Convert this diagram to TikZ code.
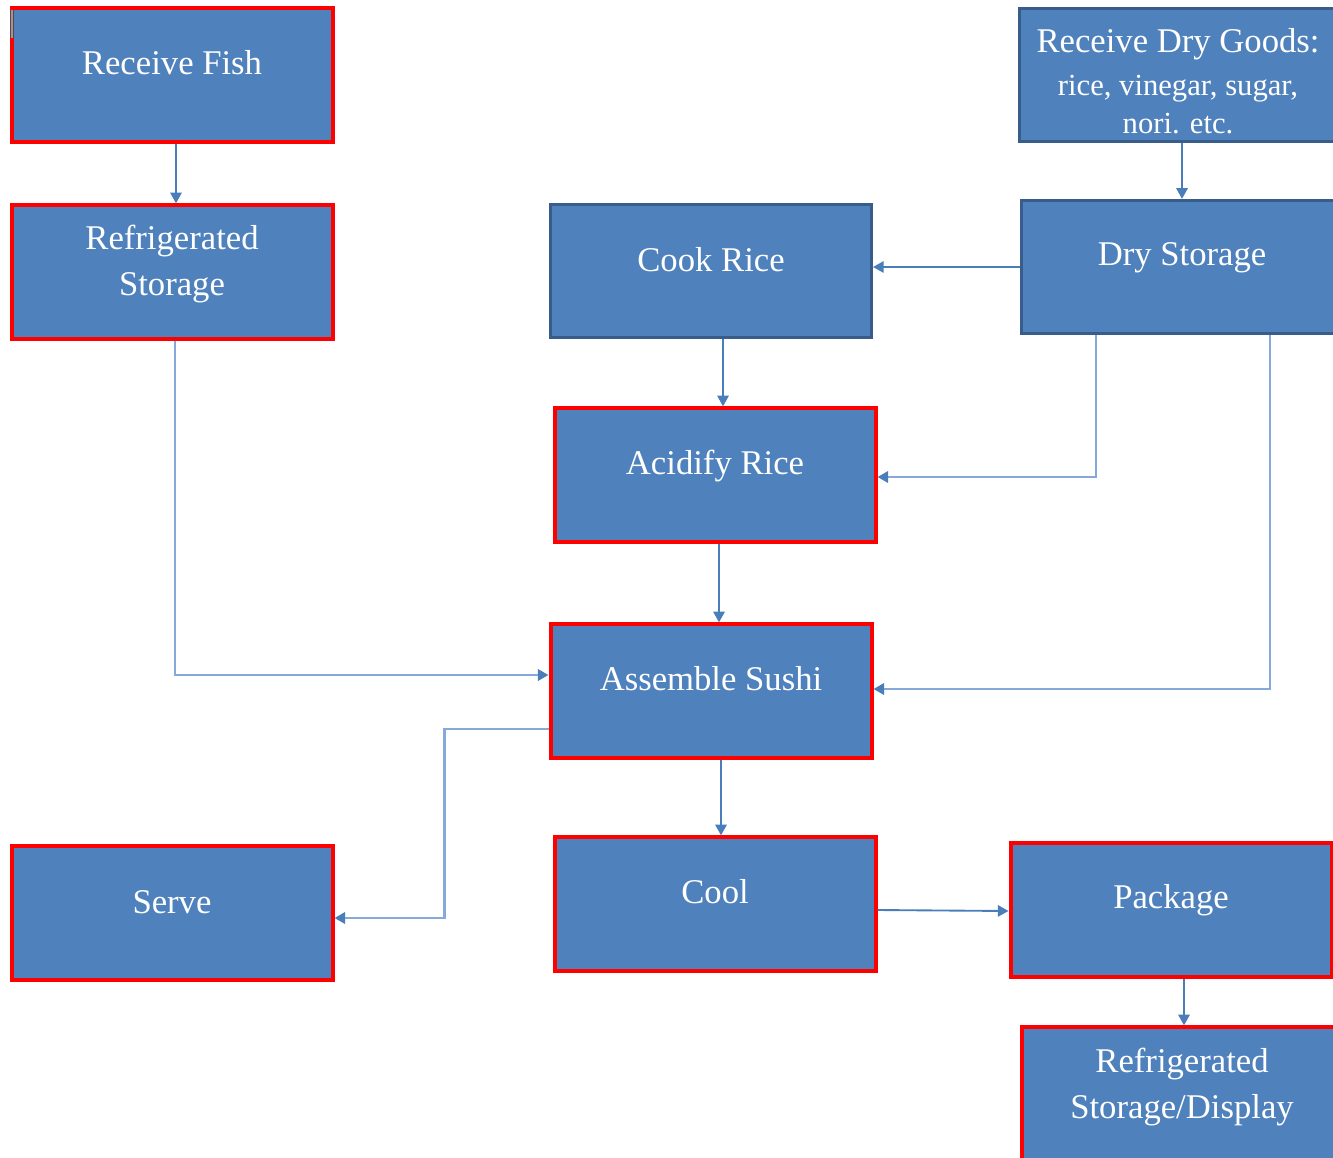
\documentclass[tikz,border=0pt]{standalone}
\usepackage{fontspec}
\setmainfont{Liberation Serif}
\usetikzlibrary{arrows.meta}
\definecolor{boxfill}{HTML}{4F81BD}
\definecolor{boxblue}{HTML}{385D8A}
\definecolor{boxred}{HTML}{FF0000}
\definecolor{conndark}{HTML}{4A7EBB}
\definecolor{connlight}{HTML}{85A9D8}
\definecolor{artcyan}{HTML}{00D8E0}
\tikzset{
  box/.style={rectangle, fill=boxfill, minimum width=240.75pt, minimum height=100pt, inner sep=0pt},
  redbox/.style={box, draw=boxred, line width=3pt},
  bluebox/.style={box, draw=boxblue, line width=2.2pt},
  txt/.style={anchor=base, text=white, inner sep=0pt, font=\fontsize{26}{34.5}\selectfont},
  conn/.style={draw=conndark, line width=1.4pt, -{Triangle[length=8pt,width=8.5pt]}},
  light/.style={draw=connlight, line width=2.2pt, -{Triangle[length=8pt,width=8.5pt,color=conndark]}}
}
\begin{document}
\begin{tikzpicture}[x=0.75pt,y=-0.75pt]
\clip (0,0) rectangle (1333,1157);
\fill[white] (0,0) rectangle (1333,1157);
% boxes
\node[redbox]  (fish)   at (172,75)   {};
\node[redbox]  (rstor)  at (172,272)  {};
\node[bluebox] (dgoods) at (1180,75)  {};
\node[bluebox] (cook)   at (711,271)  {};
\node[bluebox] (dstor)  at (1182,267) {};
\node[redbox]  (acid)   at (715,475)  {};
\node[redbox]  (assem)  at (711,691)  {};
\node[redbox]  (serve)  at (172,913)  {};
\node[redbox]  (cool)   at (715,904)  {};
\node[redbox]  (pack)   at (1171,910) {};
\node[redbox]  (rsd)    at (1182,1094) {};
\draw[artcyan, line width=1.2pt] (12,10) -- (12,38);
% texts
\node[txt] (fishT)  at ([yshift=0.75pt]fish.center)  {Receive Fish};
\node[txt] (rstorT) at ([yshift=17.25pt]rstor.center) {\begin{tabular}[t]{@{}c@{}}Refrigerated\\Storage\end{tabular}};
\node[txt] (dgoodsT) at ([yshift=17.25pt,xshift=-1.5pt]dgoods.center) {\begin{tabular}[t]{@{}c@{}}Receive Dry Goods:\\[-2pt]{\fontsize{23}{28}\selectfont rice, vinegar, sugar,}\\[-6pt]{\fontsize{23}{28}\selectfont nori. etc.}\end{tabular}};
\node[txt] (cookT)  at (cook.center)  {Cook Rice};
\node[txt] (dstorT) at ([yshift=1.5pt]dstor.center) {Dry Storage};
\node[txt] (acidT)  at ([yshift=0.75pt]acid.center)  {Acidify Rice};
\node[txt] (assemT) at ([yshift=0.75pt]assem.center) {Assemble Sushi};
\node[txt] (serveT) at (serve.center) {Serve};
\node[txt] (coolT)  at ([yshift=0.75pt]cool.center)  {Cool};
\node[txt] (packT)  at ([yshift=1.5pt]pack.center)  {Package};
\node[txt] (rsdT)   at ([yshift=16.5pt]rsd.center) {\begin{tabular}[t]{@{}c@{}}Refrigerated\\Storage/Display\end{tabular}};
% connectors
\draw[conn] ([xshift=3pt]fish.south) coordinate (c1) -- (c1 |- rstor.north);
\draw[conn] ([xshift=1.5pt]dgoods.south) coordinate (c2) -- (c2 |- dstor.north);
\draw[conn] (dstor.west) -- (dstor.west -| cook.east);
\draw[conn] ([xshift=9pt]cook.south) coordinate (c3) -- (c3 |- acid.north);
\draw[light] ([xshift=-64.5pt]dstor.south) |- ([yshift=-1.5pt]acid.east);
\draw[conn] ([xshift=3pt]acid.south) coordinate (c4) -- (c4 |- assem.north);
\draw[light] ([xshift=2.25pt]rstor.south) |- ([yshift=12pt]assem.west);
\draw[light] ([xshift=66pt]dstor.south) |- ([yshift=1.5pt]assem.east);
\draw[light] ([yshift=-28.5pt]assem.west) -- ++(-104,0) |- ([yshift=-3.75pt]serve.east);
\draw[conn] ([xshift=7.5pt]assem.south) coordinate (c5) -- (c5 |- cool.north);
\draw[conn] ([yshift=-4.5pt]cool.east) -- ([yshift=-0.75pt]pack.west);
\draw[conn] ([xshift=9.75pt]pack.south) coordinate (c6) -- (c6 |- rsd.north);
\end{tikzpicture}
\end{document}
